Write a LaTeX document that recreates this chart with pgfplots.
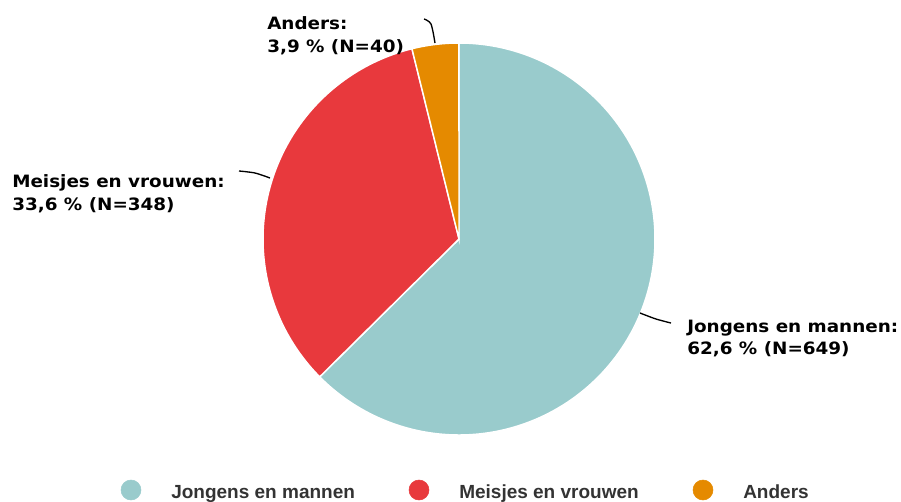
\documentclass[border=0pt]{standalone}
\usepackage{pgfplots}
\pgfplotsset{compat=1.18}
\usepackage{fontspec}
\setmainfont{DejaVu Sans}
\newfontfamily\lblfont[FakeStretch=1.08]{DejaVu Sans}
\newfontfamily\legfont{Liberation Sans}
\definecolor{cJ}{HTML}{99CBCC}
\definecolor{cM}{HTML}{E8393D}
\definecolor{cA}{HTML}{E58A00}
\definecolor{legtext}{HTML}{333333}
\begin{document}
\begin{tikzpicture}
% counts per category
\pgfmathsetmacro{\NJ}{649}
\pgfmathsetmacro{\NM}{348}
\pgfmathsetmacro{\NA}{40}
\pgfmathsetmacro{\Ntot}{\NJ+\NM+\NA}
\pgfmathsetmacro{\aZ}{90}
\pgfmathsetmacro{\aJ}{\aZ-360*(\NJ/\Ntot)}
\pgfmathsetmacro{\aM}{\aJ-360*(\NM/\Ntot)}
\pgfmathsetmacro{\aA}{\aM-360*(\NA/\Ntot)}
\begin{axis}[
  scale only axis, width=675.75pt, height=375.75pt,
  xmin=0, xmax=901, ymin=0, ymax=501, y dir=reverse,
  hide axis, clip=false,
]
\coordinate (SW) at (axis cs:0,0);
\coordinate (NE) at (axis cs:901,501);
% wedges
\addplot[fill=cJ, draw=white, line width=1.1pt, domain=\aJ:\aZ, samples=150, variable=\t]
  ({459+196*cos(t)}, {239-196*sin(t)}) -- (axis cs:459,239) -- cycle;
\addplot[fill=cM, draw=white, line width=1.1pt, domain=\aM:\aJ, samples=100, variable=\t]
  ({459+196*cos(t)}, {239-196*sin(t)}) -- (axis cs:459,239) -- cycle;
\addplot[fill=cA, draw=white, line width=1.1pt, domain=\aA:\aM, samples=20, variable=\t]
  ({459+196*cos(t)}, {239-196*sin(t)}) -- (axis cs:459,239) -- cycle;
% connectors
\addplot[black, line width=1pt, smooth] coordinates {(640,313) (656,319) (671,323)};
\addplot[black, line width=1pt, smooth] coordinates {(239,171) (255,173) (270,178)};
\addplot[black, line width=1pt, smooth] coordinates {(424,19) (431,24) (435,43)};
% labels
\node[anchor=base west, inner sep=0, font=\lblfont\fontsize{12.75pt}{15pt}\bfseries] at (axis cs:687,332) {Jongens en mannen:};
\node[anchor=base west, inner sep=0, font=\lblfont\fontsize{12.75pt}{15pt}\bfseries] at (axis cs:687,354) {62,6 \% (N=649)};
\node[anchor=base west, inner sep=0, font=\lblfont\fontsize{12.75pt}{15pt}\bfseries] at (axis cs:12,187) {Meisjes en vrouwen:};
\node[anchor=base west, inner sep=0, font=\lblfont\fontsize{12.75pt}{15pt}\bfseries] at (axis cs:12,210) {33,6 \% (N=348)};
\node[anchor=base west, inner sep=0, font=\lblfont\fontsize{12.75pt}{15pt}\bfseries] at (axis cs:267,29) {Anders:};
\node[anchor=base west, inner sep=0, font=\lblfont\fontsize{12.75pt}{15pt}\bfseries] at (axis cs:267,52) {3,9 \% (N=40)};
% legend
\addplot[only marks, mark=*, mark size=7.5pt, cJ, mark options={draw=none, fill=cJ}] coordinates {(131,490)};
\addplot[only marks, mark=*, mark size=7.5pt, cM, mark options={draw=none, fill=cM}] coordinates {(419,490)};
\addplot[only marks, mark=*, mark size=7.5pt, cA, mark options={draw=none, fill=cA}] coordinates {(703,490)};
\node[anchor=base west, inner sep=0, text=legtext, font=\legfont\fontsize{14.25pt}{16pt}\bfseries] at (axis cs:171,498) {Jongens en mannen};
\node[anchor=base west, inner sep=0, text=legtext, font=\legfont\fontsize{14.25pt}{16pt}\bfseries] at (axis cs:459,498) {Meisjes en vrouwen};
\node[anchor=base west, inner sep=0, text=legtext, font=\legfont\fontsize{14.25pt}{16pt}\bfseries] at (axis cs:743,498) {Anders};
\end{axis}
\pgfresetboundingbox
\path (SW) rectangle (NE);
\end{tikzpicture}
\end{document}
